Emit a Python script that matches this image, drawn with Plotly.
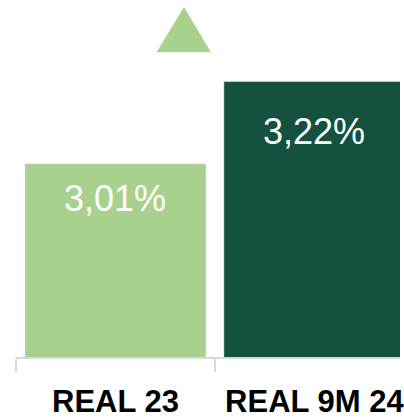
import plotly.graph_objects as go

categories = ["REAL 23", "REAL 9M 24"]
values = [3.01, 3.22]
value_labels = ["3,01%", "3,22%"]
bar_colors = ["#a9d18e", "#14523f"]

Y_MIN = 2.516
Y_MAX = 3.4285
LABEL_FRAC = 0.818

fig = go.Figure()
fig.add_trace(go.Bar(
    x=categories, y=values, marker_color=bar_colors, width=0.91,
    hoverinfo="skip", showlegend=False,
))

for c, v, t in zip(categories, values, value_labels):
    fig.add_annotation(
        x=c, y=Y_MIN + LABEL_FRAC * (v - Y_MIN), text=t, showarrow=False,
        xanchor="center", yanchor="middle",
        font=dict(family="Liberation Sans, Arial", size=36, color="white"),
    )

# decorative up-arrow triangle
fig.add_shape(
    type="path", xref="paper", yref="paper",
    path="M 0.366 0.8536 L 0.5077 0.8536 L 0.4374 0.9807 Z",
    fillcolor="#a9d18e", line=dict(width=0),
)

fig.update_layout(
    width=404, height=419,
    margin=dict(l=16, r=0, t=0, b=57),
    paper_bgcolor="white", plot_bgcolor="white",
    xaxis=dict(
        type="category", range=[-0.5, 1.4303],
        showline=True, linecolor="#d9d9d9", linewidth=2,
        ticks="outside", tickson="boundaries", ticklen=13,
        tickcolor="#d9d9d9", tickwidth=2, ticklabelstandoff=16,
        tickfont=dict(family="Liberation Sans, Arial", size=31, color="black", weight="bold"),
        showgrid=False, zeroline=False,
    ),
    yaxis=dict(
        range=[Y_MIN, Y_MAX], visible=False, showgrid=False, zeroline=False,
    ),
)

fig.write_html(
    "out.html",
    config={"displayModeBar": False, "staticPlot": True},
    post_script="document.body.style.margin='0px';document.body.style.overflow='hidden';",
)
